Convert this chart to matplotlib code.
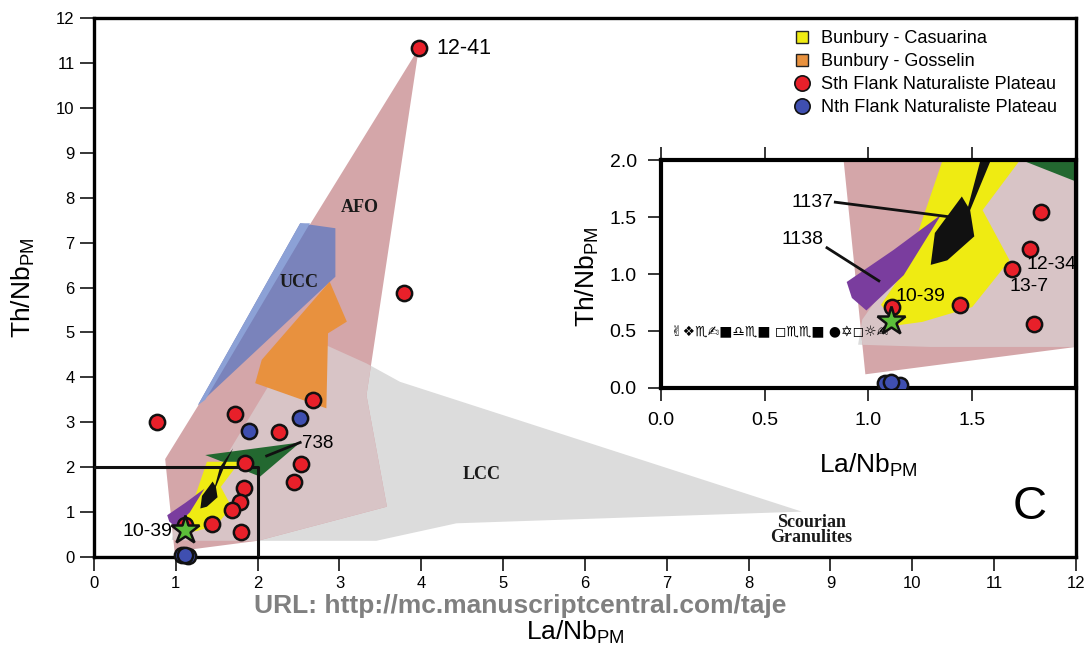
import matplotlib
matplotlib.use("Agg")
import matplotlib.pyplot as plt
from matplotlib.patches import Polygon
from matplotlib.lines import Line2D

plt.rcParams["font.family"] = ["Liberation Sans", "DejaVu Sans"]
plt.rcParams["mathtext.default"] = "regular"

# field outlines, vertices as (La/Nb_PM, Th/Nb_PM)
AFO = [(3.97, 11.33), (0.87, 2.18), (0.985, 0.12), (2.0, 0.36), (3.58, 1.12), (3.33, 3.60)]
LCC = [(2.52, 4.98), (2.88, 4.68), (3.33, 4.31), (3.74, 3.90), (8.65, 1.01), (4.43, 0.75),
       (3.45, 0.36), (1.30, 0.36), (0.95, 0.38), (0.97, 0.60), (1.66, 2.38)]
UCC = [(2.52, 7.43), (2.95, 7.32), (2.95, 6.24), (1.27, 3.38)]
UCC_EDGE = [(2.52, 7.43), (2.64, 7.43), (1.36, 3.50), (1.27, 3.38)]
GOSSELIN = [(2.88, 6.13), (3.09, 5.24), (2.86, 4.98), (2.84, 3.31), (1.97, 3.87), (2.05, 4.39)]
CASUARINA = [(1.38, 2.12), (1.78, 2.12), (1.55, 1.56), (1.68, 1.12), (1.50, 0.71), (1.26, 0.58),
             (1.14, 0.55), (1.06, 0.73), (1.18, 1.05)]
SITE_738 = [(1.36, 2.27), (2.52, 2.55), (2.03, 1.79)]
SITE_1137 = [(1.70, 2.42), (1.59, 2.0), (1.49, 1.56), (1.51, 1.33), (1.38, 1.12), (1.30, 1.08),
             (1.32, 1.36), (1.45, 1.68), (1.48, 1.59), (1.54, 2.0)]
SITE_1138 = [(0.895, 0.93), (1.12, 1.21), (1.35, 1.52), (1.17, 0.99), (0.99, 0.68), (0.92, 0.79)]

# samples
STH_X = [3.97, 3.79, 0.77, 1.72, 2.68, 2.26, 1.85, 2.53, 2.44, 1.83, 1.78, 1.69, 1.44, 1.80, 1.115]
STH_Y = [11.33, 5.88, 3.01, 3.18, 3.50, 2.79, 2.10, 2.06, 1.66, 1.54, 1.22, 1.04, 0.73, 0.56, 0.71]
NTH_X = [1.90, 2.52, 1.08, 1.15, 1.11]
NTH_Y = [2.81, 3.09, 0.04, 0.03, 0.05]
STAR_X = [1.107]
STAR_Y = [0.59]

MAIN_TICKS = list(range(0, 13))
INSET_XTICKS = [0.0, 0.5, 1.0, 1.5]
INSET_YTICKS = [0.0, 0.5, 1.0, 1.5, 2.0]

LEGEND_LABELS = ["Bunbury - Casuarina", "Bunbury - Gosselin",
                 "Sth Flank Naturaliste Plateau", "Nth Flank Naturaliste Plateau"]

PINK = "#d4a6a9"
GREY = "#dcdcdc"
MIX = "#d8c4c6"
BLUE_FIELD = "#7a83bb"
BLUE_EDGE = "#8ca1d6"
ORANGE = "#e8913e"
YELLOW = "#efeb12"
GREEN = "#236830"
PURPLE = "#7a3d9e"
RED = "#e8202a"
BLUE = "#3f4fb0"
STAR_GREEN = "#5cbf3a"


def draw_fields(ax):
    grey = Polygon(LCC, closed=True, fc=GREY, ec="none", zorder=1)
    pink = Polygon(AFO, closed=True, fc=PINK, ec="none", zorder=1.1)
    ax.add_patch(grey)
    ax.add_patch(pink)
    # LCC seen through AFO
    mix = Polygon(LCC, closed=True, fc=MIX, ec="none", zorder=1.2)
    ax.add_patch(mix)
    mix.set_clip_path(pink)
    mix.set_clip_box(ax.bbox)
    for verts, col, z in [(UCC, BLUE_FIELD, 2), (UCC_EDGE, BLUE_EDGE, 2.1),
                          (GOSSELIN, ORANGE, 2.2), (SITE_738, GREEN, 2.3),
                          (CASUARINA, YELLOW, 2.4), (SITE_1137, "#111111", 2.5),
                          (SITE_1138, PURPLE, 2.6)]:
        ax.add_patch(Polygon(verts, closed=True, fc=col, ec="none", zorder=z))


def draw_samples(ax, clip=True):
    ax.plot(STH_X, STH_Y, "o", ms=11, mfc=RED, mec="#111111", mew=1.8, zorder=5, clip_on=clip)
    ax.plot(NTH_X, NTH_Y, "o", ms=11, mfc=BLUE, mec="#111111", mew=1.8, zorder=5, clip_on=clip)
    ax.plot(STAR_X, STAR_Y, "*", ms=21, mfc=STAR_GREEN, mec="#111111", mew=1.8, zorder=6,
            clip_on=clip)


fig = plt.figure(figsize=(10.89, 6.46), dpi=100)
ax = fig.add_axes([0.0863, 0.1378, 0.9017, 0.8343])
draw_fields(ax)
draw_samples(ax, clip=False)
ax.plot([0, 2, 2], [2, 2, 0], color="#111111", lw=2.2, zorder=4)

ax.set_xlim(0, 12)
ax.set_ylim(0, 12)
ax.set_xticks(MAIN_TICKS)
ax.set_yticks(MAIN_TICKS)
ax.tick_params(direction="out", length=10, width=1.1, labelsize=12, pad=4)
for s in ax.spines.values():
    s.set_linewidth(2.4)
ax.set_xlabel(r"La/Nb$_{PM}$", fontsize=19, va="top")
ax.xaxis.set_label_coords(0.49, -0.114)
ax.set_ylabel(r"Th/Nb$_{PM}$", fontsize=19)
ax.yaxis.set_label_coords(-0.058, 0.5)

serif = dict(family="Liberation Serif", fontweight="bold", fontsize=13, color="#1a1a1a",
             ha="center", va="center", zorder=7)
ax.text(3.25, 7.79, "AFO", **serif)
ax.text(2.51, 6.12, "UCC", **serif)
ax.text(4.74, 1.83, "LCC", **serif)
ax.text(8.77, 0.60, "Scourian\nGranulites", linespacing=0.8, **serif)

ax.text(4.19, 11.33, "12-41", fontsize=15.5, va="center", zorder=7)
ax.text(2.54, 2.53, "738", fontsize=13.5, va="center", zorder=7)
ax.plot([2.52, 2.11], [2.55, 2.25], color="#111111", lw=2, zorder=7)
ax.text(0.96, 0.56, "10-39", fontsize=14, ha="right", va="center", zorder=7)
ax.text(11.44, 1.11, "C", fontsize=34, ha="center", va="center", zorder=7)

handles = [
    Line2D([], [], ls="none", marker="s", ms=9, mfc=YELLOW, mec="#222222", mew=1),
    Line2D([], [], ls="none", marker="s", ms=9, mfc=ORANGE, mec="#222222", mew=1),
    Line2D([], [], ls="none", marker="o", ms=11, mfc=RED, mec="#111111", mew=1.2),
    Line2D([], [], ls="none", marker="o", ms=11, mfc=BLUE, mec="#111111", mew=1.2),
]
ax.legend(handles, LEGEND_LABELS, loc="upper left", bbox_to_anchor=(0.712, 0.978),
          frameon=False, fontsize=13.1, borderaxespad=0, borderpad=0,
          handlelength=1.0, handletextpad=0.55, labelspacing=0.33)

# inset: zoom on the 0-2 box
ins = fig.add_axes([0.607, 0.3994, 0.381, 0.3529], zorder=10)
ins.set_facecolor("white")
draw_fields(ins)
draw_samples(ins)
ins.set_xlim(0, 2)
ins.set_ylim(0, 2)
ins.set_xticks(INSET_XTICKS)
ins.set_yticks(INSET_YTICKS)
ins.set_xticklabels([f"{t:.1f}" for t in INSET_XTICKS])
ins.set_yticklabels([f"{t:.1f}" for t in INSET_YTICKS])
ins.tick_params(direction="out", length=9.5, width=1.1, labelsize=14, pad=8,
                top=True, right=False)
for s in ins.spines.values():
    s.set_linewidth(3)
ins.set_xlabel(r"La/Nb$_{PM}$", fontsize=19, va="top")
ins.xaxis.set_label_coords(0.499, -0.28)
ins.set_ylabel(r"Th/Nb$_{PM}$", fontsize=19)
ins.yaxis.set_label_coords(-0.145, 0.487)

ins.text(0.83, 1.63, "1137", fontsize=14, ha="right", va="center", zorder=7)
ins.plot([0.84, 1.44], [1.63, 1.49], color="#111111", lw=2, zorder=7)
ins.text(0.68, 1.30, "1138", fontsize=14, ha="center", va="center", zorder=7)
ins.plot([0.80, 1.05], [1.23, 0.94], color="#111111", lw=2, zorder=7)
ins.text(1.13, 0.80, "10-39", fontsize=14, va="center", zorder=7)
ins.text(1.76, 1.08, "12-34", fontsize=14, va="center", zorder=7)
ins.text(1.68, 0.89, "13-7", fontsize=14, va="center", zorder=7)
ins.text(0.05, 0.49, "✌❖♏✍■♎♏■ ◻♏♏■ ●✡◻☼✍", family=["DejaVu Sans"], fontsize=10,
         va="center", zorder=4)

fig.text(0.4775, 0.0505, "URL: http://mc.manuscriptcentral.com/taje", fontsize=19,
         fontweight="bold", color="#808080", ha="center", va="baseline", zorder=20)

fig.savefig("out.png", dpi=100)
